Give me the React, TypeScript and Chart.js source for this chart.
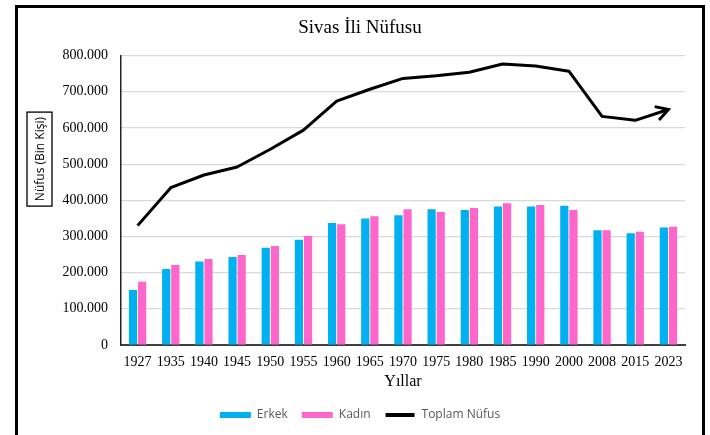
import React, { useEffect, useRef } from 'react';
import { Chart, registerables } from 'chart.js';

Chart.register(...registerables);

const years = ['1927', '1935', '1940', '1945', '1950', '1955', '1960', '1965', '1970', '1975', '1980', '1985', '1990', '2000', '2008', '2015', '2023'];
const erkek = [152000, 210000, 231000, 243000, 269000, 291000, 337000, 350000, 359000, 375000, 373000, 383000, 383000, 385000, 317000, 309000, 325000];
const kadin = [175000, 221000, 238000, 249000, 274000, 301000, 334000, 356000, 375000, 368000, 379000, 392000, 387000, 373000, 317000, 313000, 327000];
const toplam = [330000, 435000, 470000, 492000, 541000, 594000, 674000, 707000, 737000, 744000, 754000, 777000, 771000, 757000, 632000, 621000, 651000];
const yMin = 0;
const yMax = 800000;
const yStep = 100000;

const TITLE = 'Sivas İli Nüfusu';
const X_TITLE = 'Yıllar';
const Y_TITLE = 'Nüfus (Bin Kişi)';

const SERIF = "'Liberation Serif', 'Times New Roman', serif";
const SANS = "'Open Sans', 'Noto Sans', sans-serif";

function fmt(v: number): string {
  if (v === 0) return '0';
  return String(v).replace(/\B(?=(\d{3})+(?!\d))/g, '.');
}

const yTitleBoxPlugin = {
  id: 'yTitleBox',
  afterDraw(chart: any) {
    const { ctx, chartArea } = chart;
    ctx.save();
    const cx = chartArea.left - 81.5;
    const cy = chartArea.top + 103.5;
    ctx.translate(cx, cy);
    ctx.rotate(-Math.PI / 2);
    ctx.font = `12px ${SANS}`;
    ctx.fillStyle = '#000';
    ctx.textAlign = 'center';
    ctx.textBaseline = 'middle';
    ctx.fillText(Y_TITLE, 0, 1);
    ctx.strokeStyle = '#000';
    ctx.lineWidth = 1.3;
    ctx.strokeRect(-47, -12.5, 94, 25);
    ctx.restore();
  },
};

const arrowPlugin = {
  id: 'arrowHead',
  afterDatasetsDraw(chart: any) {
    const meta = chart.getDatasetMeta(2);
    const pts = meta.data;
    const n = pts.length;
    if (n < 2) return;
    const a = pts[n - 2];
    const b = pts[n - 1];
    const ang = Math.atan2(b.y - a.y, b.x - a.x);
    const L = 14;
    const spread = Math.PI / 6;
    const ctx = chart.ctx;
    ctx.save();
    ctx.strokeStyle = '#000';
    ctx.lineWidth = 3;
    ctx.lineJoin = 'miter';
    ctx.lineCap = 'butt';
    ctx.beginPath();
    ctx.moveTo(b.x - L * Math.cos(ang - spread), b.y - L * Math.sin(ang - spread));
    ctx.lineTo(b.x, b.y);
    ctx.lineTo(b.x - L * Math.cos(ang + spread), b.y - L * Math.sin(ang + spread));
    ctx.stroke();
    ctx.restore();
  },
};

export default function App() {
  const ref = useRef<HTMLCanvasElement | null>(null);

  useEffect(() => {
    if (!ref.current) return;
    const chart = new Chart(ref.current, {
      type: 'bar',
      data: {
        labels: years,
        datasets: [
          {
            type: 'bar',
            label: 'Erkek',
            data: erkek,
            backgroundColor: '#00B0F0',
            borderWidth: 0,
            barPercentage: 0.9,
            categoryPercentage: 0.55,
            order: 2,
          },
          {
            type: 'bar',
            label: 'Kadın',
            data: kadin,
            backgroundColor: '#FF66CC',
            borderWidth: 0,
            barPercentage: 0.9,
            categoryPercentage: 0.55,
            order: 2,
          },
          {
            type: 'line',
            label: 'Toplam Nüfus',
            data: toplam,
            borderColor: '#000',
            backgroundColor: '#000',
            borderWidth: 3,
            pointRadius: 0,
            tension: 0,
            borderJoinStyle: 'round',
            order: 1,
          } as any,
        ],
      },
      options: {
        responsive: false,
        animation: false,
        layout: { padding: { left: 15, right: 5, top: 0, bottom: 4 } },
        plugins: {
          title: {
            display: true,
            text: TITLE,
            color: '#000',
            font: { family: SERIF, size: 19, weight: 'normal' },
            padding: { top: 16.4, bottom: 16.4 },
          },
          legend: {
            position: 'bottom',
            labels: {
              boxWidth: 31,
              boxHeight: 6,
              padding: 14,
              color: '#595959',
              font: { family: SANS, size: 12 },
              sort: (a: any, b: any) => a.datasetIndex - b.datasetIndex,
              generateLabels(chart: any) {
                const items = Chart.defaults.plugins.legend.labels.generateLabels(chart);
                return items.map((it: any) => {
                  if (it.datasetIndex === 2) {
                    return { ...it, fillStyle: '#000', strokeStyle: '#fff', lineWidth: 2 };
                  }
                  return { ...it, lineWidth: 0 };
                });
              },
            },
          },
          tooltip: { enabled: false },
        },
        scales: {
          x: {
            grid: { display: false },
            border: { display: true, color: '#404040', width: 2 },
            ticks: {
              color: '#000',
              font: { family: SERIF, size: 14 },
              padding: 1,
              maxRotation: 0,
              autoSkip: false,
            },
            title: {
              display: true,
              text: X_TITLE,
              color: '#000',
              font: { family: SERIF, size: 16 },
              padding: { top: 2, bottom: 4 },
            },
            afterFit(s: any) {
              s.height = 50;
            },
          },
          y: {
            min: yMin,
            max: yMax,
            grid: { color: '#d9d9d9', lineWidth: 1.2, drawTicks: false },
            border: { display: true, color: '#222', width: 1.5 },
            ticks: {
              stepSize: yStep,
              color: '#000',
              font: { family: SERIF, size: 14 },
              padding: 13,
              callback: (v: any) => fmt(Number(v)),
            },
            afterFit(s: any) {
              s.width = 106;
            },
          },
          y2: {
            position: 'right',
            display: true,
            grid: { display: false, drawTicks: false },
            border: { display: false },
            ticks: { display: false },
            afterFit(s: any) {
              s.width = 20;
            },
          },
        },
      } as any,
      plugins: [yTitleBoxPlugin, arrowPlugin],
    });
    return () => chart.destroy();
  }, []);

  return (
    <div style={{ position: 'fixed', left: 0, top: 0, width: 710, height: 435, overflow: 'hidden', background: '#fff' }}>
      <canvas ref={ref} width={710} height={435} style={{ display: 'block', width: 710, height: 435 }} />
      <div
        style={{
          position: 'absolute',
          left: 15,
          top: 5,
          width: 690,
          height: 470,
          border: '3px solid #000',
          boxSizing: 'border-box',
          pointerEvents: 'none',
        }}
      />
    </div>
  );
}
